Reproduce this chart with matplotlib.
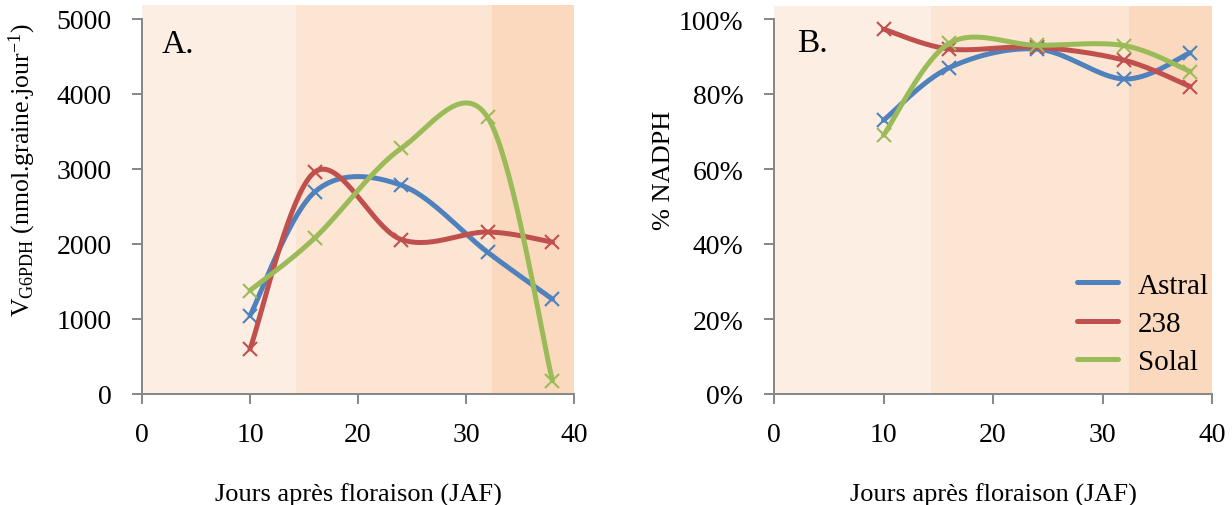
import numpy as np
import matplotlib
matplotlib.use("Agg")
import matplotlib.pyplot as plt
from matplotlib.patches import Rectangle
from matplotlib.ticker import FuncFormatter

plt.rcParams['font.family'] = ['Liberation Serif', 'DejaVu Serif']
plt.rcParams['mathtext.fontset'] = 'custom'
plt.rcParams['mathtext.rm'] = 'Liberation Serif'
plt.rcParams['mathtext.it'] = 'Liberation Serif:italic'

# ---- data ----
jaf = [10, 16, 24, 32, 38]
series_names = ["Astral", "238", "Solal"]
g6pdh_astral = [1045, 2695, 2785, 1890, 1265]
g6pdh_238 = [600, 2960, 2060, 2160, 2025]
g6pdh_solal = [1380, 2080, 3275, 3690, 180]
nadph_astral = [0.73, 0.87, 0.92, 0.84, 0.91]
nadph_238 = [0.973, 0.92, 0.925, 0.89, 0.82]
nadph_solal = [0.69, 0.935, 0.93, 0.929, 0.86]
phase_edges = [0, 14.3, 32.4, 40]
phase_colors = ["#FCEEE3", "#FDE5D3", "#FBD9BF"]
colors = ["#4F81BD", "#C0504D", "#9BBB59"]
x_ticks = [0, 10, 20, 30, 40]


def smooth(x, y, n=40):
    x = np.asarray(x, float); y = np.asarray(y, float)
    P = np.column_stack([x, y])
    out = []
    for i in range(len(P) - 1):
        p0 = P[i - 1] if i > 0 else P[i]
        p1 = P[i]; p2 = P[i + 1]
        p3 = P[i + 2] if i + 2 < len(P) else P[i + 1]
        c1 = p1 + (p2 - p0) / 6.0
        c2 = p2 - (p3 - p1) / 6.0
        t = np.linspace(0, 1, n)[:, None]
        seg = ((1 - t) ** 3) * p1 + 3 * ((1 - t) ** 2) * t * c1 + 3 * (1 - t) * t ** 2 * c2 + t ** 3 * p2
        out.append(seg if i == 0 else seg[1:])
    s = np.vstack(out)
    return s[:, 0], s[:, 1]


fig = plt.figure(figsize=(12.32, 5.06), dpi=100)
axA = fig.add_axes([142 / 1232, 111 / 506, 432 / 1232, 375 / 506])
axB = fig.add_axes([774 / 1232, 111 / 506, 438 / 1232, 375 / 506])

grey = "#868686"


def style(ax, ytop):
    for i in range(3):
        ax.add_patch(Rectangle((phase_edges[i], 0), phase_edges[i + 1] - phase_edges[i],
                               ytop, facecolor=phase_colors[i], edgecolor="none",
                               zorder=0, clip_on=False))
    ax.set_xlim(0, 40)
    ax.set_xticks(x_ticks)
    for s in ["top", "right"]:
        ax.spines[s].set_visible(False)
    for s in ["left", "bottom"]:
        ax.spines[s].set_color(grey)
        ax.spines[s].set_linewidth(1.4)
        ax.spines[s].set_zorder(3)
    ax.tick_params(axis='both', colors=grey, labelcolor="black", labelsize=20,
                   width=1.4, length=7, direction='out')
    ax.tick_params(axis='x', pad=13)
    ax.tick_params(axis='y', pad=15)
    ax.set_xlabel("Jours après floraison (JAF)", fontsize=19, labelpad=26)
    ax.set_facecolor("none")


# Panel A
style(axA, 5190)
axA.set_ylim(0, 5000)
axA.set_yticks([0, 1000, 2000, 3000, 4000, 5000])
for name, vals, c in zip(series_names, [g6pdh_astral, g6pdh_238, g6pdh_solal], colors):
    sx, sy = smooth(jaf, vals)
    axA.plot(sx, sy, color=c, lw=3.6, zorder=2, solid_capstyle='round')
    axA.plot(jaf, vals, linestyle='none', marker='x', color=c, ms=10, mew=1.5, zorder=2)
axA.set_ylabel(r"V$_{\mathrm{G6PDH}}$ (nmol.graine.jour$^{\mathrm{-1}}$)", fontsize=18.5)
axA.yaxis.set_label_coords(-0.24, 0.6)
axA.text(1.85, 4670, "A.", fontsize=24, va='center')

# Panel B
style(axB, 1.035)
axB.set_ylim(0, 1.0)
axB.set_yticks([0, 0.2, 0.4, 0.6, 0.8, 1.0])
axB.yaxis.set_major_formatter(FuncFormatter(lambda v, p: f"{v*100:.0f}%"))
handles = []
for name, vals, c in zip(series_names, [nadph_astral, nadph_238, nadph_solal], colors):
    sx, sy = smooth(jaf, vals)
    h, = axB.plot(sx, sy, color=c, lw=3.6, zorder=2, label=name, solid_capstyle='round')
    axB.plot(jaf, vals, linestyle='none', marker='x', color=c, ms=10, mew=1.5, zorder=2)
    handles.append(h)
axB.set_ylabel("% NADPH", fontsize=19)
axB.yaxis.set_label_coords(-0.225, 0.6)
axB.text(2.1, 0.936, "B.", fontsize=24, va='center')
axB.legend(handles=handles, loc='lower right', frameon=False, fontsize=21,
           handlelength=1.4, handletextpad=0.7, labelspacing=0.4,
           bbox_to_anchor=(1.02, 0.02), borderaxespad=0.0)

fig.savefig("out.png", dpi=100)
